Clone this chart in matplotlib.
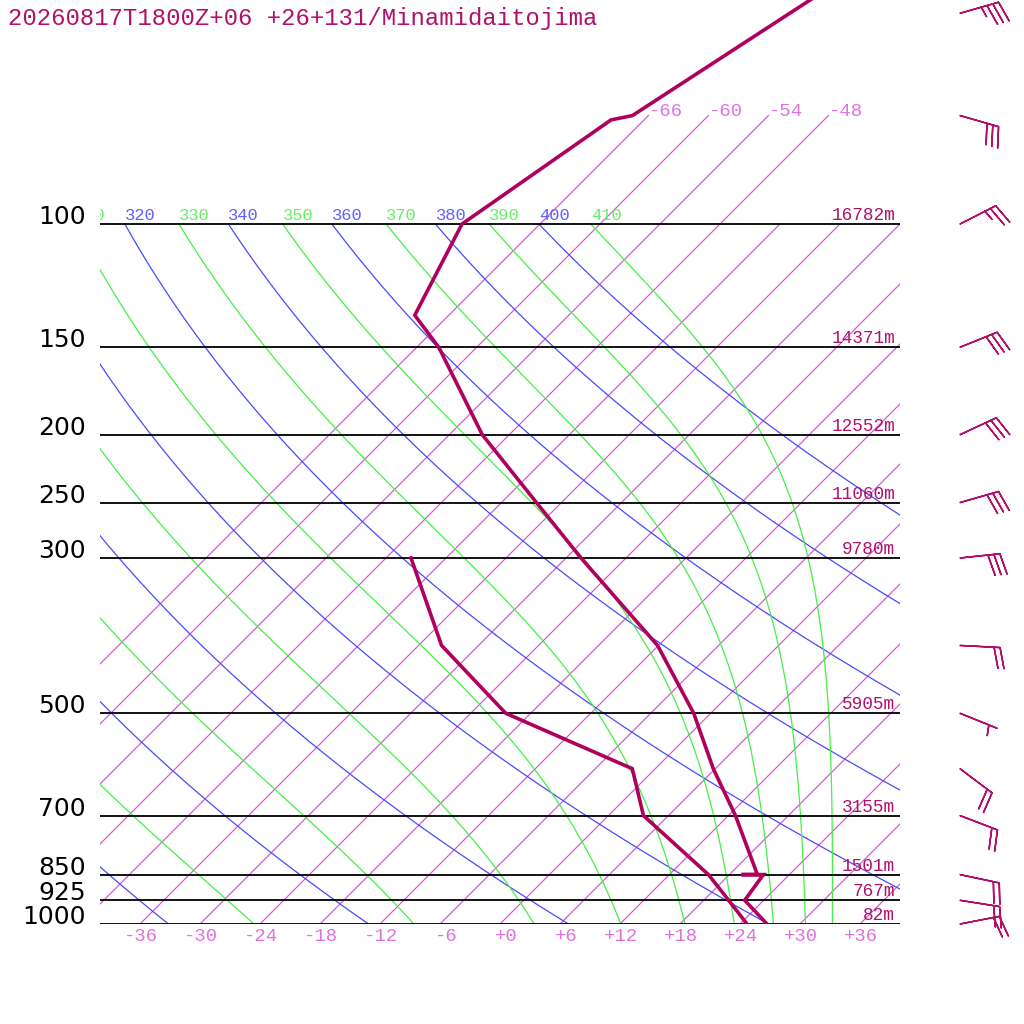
import numpy as np
import matplotlib
matplotlib.use('Agg')
import matplotlib.pyplot as plt
import matplotlib.transforms as mtransforms

# sounding: temperature profile (hPa, degC)
p_temp = [1000, 925, 850, 850, 850, 700, 600, 500, 400, 300, 250, 200, 150, 135, 100, 71, 70, 50, 30]
temp = [26.7, 22.1, 21.4, 19.2, 20.8, 12.7, 5.8, -1.7, -12.1, -28.5, -38.5, -50.7, -63.8, -69.4, -73.8, -69.3, -67.6, -62.1, -53.7]

# dew point profile
p_dew = [1000, 925, 850, 700, 600, 500, 400, 300]
dewp = [24.7, 20.5, 15.9, 3.5, -2.3, -20.5, -33.7, -45.5]

# winds (direction from, knots)
wind_p = [1000, 925, 850, 700, 600, 500, 400, 300, 250, 200, 150, 100, 70, 50]
wind_dir = [79, 99, 102, 111, 127, 112, 93, 84, 74, 65, 68, 63, 106, 74]
wind_spd = [20, 20, 20, 20, 20, 5, 20, 30, 30, 30, 30, 25, 30, 35]

# standard levels and their heights
levels = [1000, 925, 850, 700, 500, 300, 250, 200, 150, 100]
level_labels = ['1000', '925', '850', '700', '500', '300', '250', '200', '150', '100']
heights = ['82m', '767m', '1501m', '3155m', '5905m', '9780m', '11060m', '12552m', '14371m', '16782m']

isotherms = list(range(-66, 37, 6))
iso_labelled = [-66, -60, -54, -48]
temp_ticks = list(range(-36, 37, 6))
dry_thetas = list(range(240, 401, 20))
moist_thetas = list(range(250, 411, 20))

title = '20260817T1800Z+06 +26+131/Minamidaitojima'

SKEW = 70.0
P_TOP = 1000 * 10 ** (-924 / 700)

C_PROF = '#b0005e'
C_TXT = '#b0106a'
C_ISO = '#dc50dc'
C_ISO_TXT = '#e070e0'
C_DRY = '#4a4aff'
C_DRY_TXT = '#6060ff'
C_WET = '#44f044'
C_WET_TXT = '#66ee66'
MONO = 'Liberation Mono'


def skx(t, p):
    return np.asarray(t, float) + SKEW * np.log10(1000.0 / np.asarray(p, float))


def theta_e(tk, p):
    tc = tk - 273.15
    es = 6.112 * np.exp(17.67 * tc / (tc + 243.5))
    es = np.minimum(es, 0.5 * p)
    r = 622.0 * es / (p - es)
    return tk * (1000.0 / p) ** (0.2854 * (1 - 0.00028 * r)) * np.exp((3.376 / tk - 0.00254) * r * (1 + 0.00081 * r))


def moist_t(the, p):
    lo = np.full_like(p, 150.0)
    hi = np.full_like(p, 330.0)
    for _ in range(60):
        mid = (lo + hi) / 2
        f = theta_e(mid, p) > the
        hi = np.where(f, mid, hi)
        lo = np.where(f, lo, mid)
    return (lo + hi) / 2 - 273.15


fig = plt.figure(figsize=(10.24, 10.24), dpi=100)
ax = fig.add_axes([100 / 1024, 100 / 1024, 800 / 1024, 924 / 1024])
ax.set_yscale('log')
ax.set_ylim(1000, P_TOP)
ax.set_xlim(-40, 40)
ax.axis('off')

pp = np.logspace(3, 2, 200)

# isotherms
for t in isotherms:
    ptop = 70 if t <= -48 else 100
    ax.plot(skx([t, t], [1000, ptop]), [1000, ptop], color=C_ISO, lw=0.85)
for t in iso_labelled:
    ax.annotate('%+d' % t, (skx(t, 70), 70), xytext=(0, 3), textcoords='offset points',
                ha='left', va='center', color=C_ISO_TXT, fontsize=13.6, family=MONO)

# adiabats, labelled where they meet 100 hPa
lab_tr = ax.transData + mtransforms.ScaledTranslation(0, 3 / 72, fig.dpi_scale_trans)
for th in dry_thetas:
    tt = th * (pp / 1000.0) ** 0.286 - 273.15
    ax.plot(skx(tt, pp), pp, color=C_DRY, lw=0.9)
    x0 = skx(tt[-1], 100)
    if x0 > -45:
        ax.text(x0, 100, str(th), transform=lab_tr, ha='left', va='baseline',
                color=C_DRY_TXT, fontsize=12.3, family=MONO, clip_on=True)
for th in moist_thetas:
    tt = moist_t(float(th), pp)
    ax.plot(skx(tt, pp), pp, color=C_WET, lw=0.9)
    x0 = skx(tt[-1], 100)
    if x0 > -45:
        ax.text(x0, 100, str(th), transform=lab_tr, ha='left', va='baseline',
                color=C_WET_TXT, fontsize=12.3, family=MONO, clip_on=True)

# pressure levels
for p, lab, h in zip(levels, level_labels, heights):
    ax.plot([-40, 40], [p, p], color='black', lw=1.3, solid_capstyle='butt')
    ax.text(-41.4, p, lab, ha='right', va='baseline', fontsize=18, color='black')
    ax.text(39.5, p, h, ha='right', va='bottom', fontsize=12.8, color=C_TXT, family=MONO)

# temperature axis labels
for t in temp_ticks:
    ax.text(t + 1.8, -0.014, '%+d' % t, transform=ax.get_xaxis_transform(), ha='right',
            va='center', color=C_ISO_TXT, fontsize=13.6, family=MONO)

# profiles
ax.plot(skx(temp, p_temp), p_temp, color=C_PROF, lw=2.6, solid_joinstyle='miter')
ax.plot(skx(dewp, p_dew), p_dew, color=C_PROF, lw=2.6, solid_joinstyle='miter')

# wind barbs
bax = fig.add_axes([920 / 1024, 100 / 1024, 80 / 1024, 924 / 1024])
bax.set_yscale('log')
bax.set_ylim(1000, P_TOP)
bax.set_xlim(-1, 1)
bax.axis('off')
d = np.radians(wind_dir)
spd = np.array(wind_spd, float)
u = -spd * np.sin(d)
v = -spd * np.cos(d)
bax.barbs(np.zeros(len(wind_p)), wind_p, u, v, length=7.6, color=C_TXT, linewidth=1.1,
          sizes=dict(spacing=0.15, height=0.52), clip_on=False)

fig.text(8 / 1024, 1 - 18 / 1024, title, ha='left', va='center', fontsize=17.2,
         color=C_TXT, family=MONO)

fig.savefig('out.png', dpi=100, facecolor='white')
